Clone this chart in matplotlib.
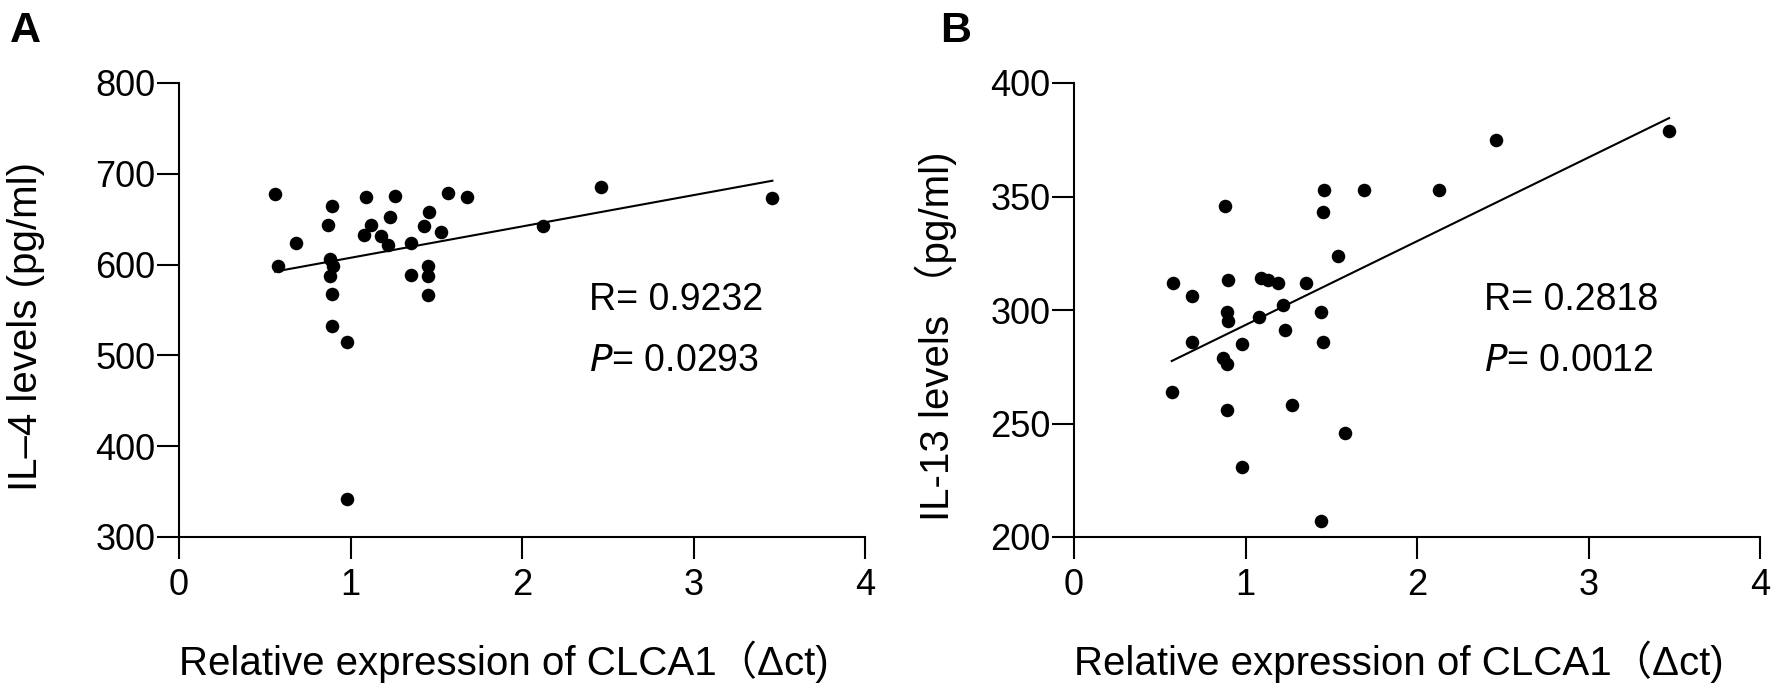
import numpy as np
import matplotlib
matplotlib.use("Agg")
import matplotlib.pyplot as plt

plt.rcParams['font.family'] = ['Liberation Sans', 'Noto Sans CJK SC', 'DejaVu Sans']

# panel A: IL-4 vs CLCA1
a_x = [0.56, 0.58, 0.68, 0.87, 0.89, 0.88, 0.90, 0.88, 0.89, 0.89, 0.98, 0.98,
       1.09, 1.08, 1.12, 1.18, 1.22, 1.23, 1.26, 1.35, 1.35, 1.43, 1.46, 1.45,
       1.45, 1.45, 1.53, 1.57, 1.68, 2.12, 2.46, 3.46]
a_y = [678, 599, 624, 644, 664, 606, 599, 587, 568, 532, 515, 342,
       674, 633, 644, 632, 622, 652, 676, 624, 588, 643, 658, 598,
       587, 566, 636, 679, 675, 643, 686, 673]
a_fit = (34.5, 573.0)   # slope, intercept
a_yticks = [300, 400, 500, 600, 700, 800]
a_stats = ["R= 0.9232", "0.0293"]

# panel B: IL-13 vs CLCA1
b_x = [0.57, 0.58, 0.69, 0.69, 0.88, 0.90, 0.89, 0.90, 0.87, 0.89, 0.89, 0.98,
       0.98, 1.08, 1.09, 1.13, 1.19, 1.22, 1.23, 1.27, 1.35, 1.44, 1.45, 1.45,
       1.46, 1.54, 1.58, 1.44, 1.69, 2.13, 2.46, 3.47]
b_y = [264, 312, 306, 286, 346, 313, 299, 295, 279, 276, 256, 285,
       231, 297, 314, 313, 312, 302, 291, 258, 312, 299, 286, 343,
       353, 324, 246, 207, 353, 353, 375, 379]
b_fit = (36.9, 256.5)
b_yticks = [200, 250, 300, 350, 400]
b_stats = ["R= 0.2818", "0.0012"]

xticks = [0, 1, 2, 3, 4]
xlabel = "Relative expression of CLCA1（Δct)"

W, H = 1775, 689
AX_W = 686
fig = plt.figure(figsize=(W / 100, H / 100), dpi=100)


def panel(left, x, y, fit, yticks, stats, ylabel, ylab_pos, letter, letter_x):
    ax = fig.add_axes([left / W, 1 - 537 / H, AX_W / W, 454 / H])
    ax.scatter(x, y, s=95, color='black', zorder=3, linewidths=0)
    xs = np.array([min(x), max(x)])
    ax.plot(xs, fit[0] * xs + fit[1], color='black', lw=1.5)
    ax.set_xlim(xticks[0], xticks[-1])
    ax.set_ylim(yticks[0], yticks[-1])
    ax.set_xticks(xticks)
    ax.set_yticks(yticks)
    for s in ['top', 'right']:
        ax.spines[s].set_visible(False)
    for s in ['left', 'bottom']:
        ax.spines[s].set_linewidth(1.5)
    ax.tick_params(axis='both', width=1.5, length=16, labelsize=26, direction='out')
    ax.tick_params(axis='y', pad=1)
    ax.tick_params(axis='x', pad=6)
    # stats text
    sy = yticks[0] + (yticks[-1] - yticks[0]) * 0.50
    sy2 = yticks[0] + (yticks[-1] - yticks[0]) * 0.365
    ax.text(2.39, sy, stats[0], fontsize=27, ha='left', va='baseline')
    ax.text(2.39, sy2, r"$\it{P}$" + "= " + stats[1], fontsize=27, ha='left', va='baseline')
    fig.text(ylab_pos[0] / W, 1 - ylab_pos[1] / H, ylabel, rotation=90,
             fontsize=29, ha='center', va='center')
    fig.text(left / W, 1 - 675 / H, xlabel, fontsize=29, ha='left', va='baseline')
    fig.text(letter_x / W, 1 - 42 / H, letter, fontsize=31, fontweight='bold',
             ha='left', va='baseline')
    return ax


panel(179, a_x, a_y, a_fit, a_yticks, a_stats, "IL–4 levels (pg/ml)", (26, 326), "A", 10)
panel(1074, b_x, b_y, b_fit, b_yticks, b_stats, "IL-13 levels （pg/ml)", (936, 336), "B", 940)

fig.savefig("out.png", dpi=100)
